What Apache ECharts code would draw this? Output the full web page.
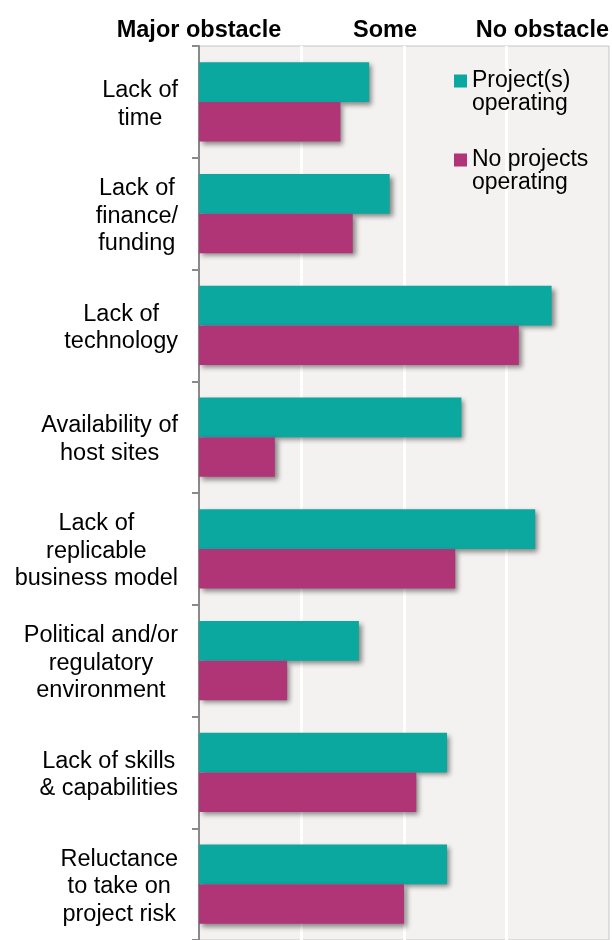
<!DOCTYPE html>
<html>
<head>
<meta charset="utf-8">
<script src="https://cdn.jsdelivr.net/npm/echarts@6/dist/echarts.min.js"></script>
<style>
  html, body { margin: 0; padding: 0; background: #ffffff; }
  #chart { width: 612px; height: 940px; }
</style>
</head>
<body>
<div id="chart"></div>
<script>
// Obstacles, listed top to bottom (line breaks as shown next to the axis)
const categories = [
  'Lack of\ntime',
  'Lack of\nfinance/\nfunding',
  'Lack of\ntechnology',
  'Availability of\nhost sites',
  'Lack of\nreplicable\nbusiness model',
  'Political and/or\nregulatory\nenvironment',
  'Lack of skills\n& capabilities',
  'Reluctance\nto take on\nproject risk'
];

// Mean rating: 1 = major obstacle, 2 = some, 3 = no obstacle
const projectsOperating = [1.83, 1.93, 2.72, 2.28, 2.64, 1.78, 2.21, 2.21];
const noProjectsOperating = [1.69, 1.75, 2.56, 1.37, 2.25, 1.43, 2.06, 2.00];

const seriesNames = ['Project(s) operating', 'No projects operating'];

// Rating scale shown along the top
const scaleValues = [1, 2, 3];
const scaleLabels = ['Major obstacle', 'Some', 'No obstacle'];

const FONT = "'Liberation Sans', Arial, Helvetica, sans-serif";
const TEAL = '#0AA89F';
const PLUM = '#B03577';

const barShadow = {
  shadowColor: 'rgba(0,0,0,0.45)',
  shadowBlur: 5,
  shadowOffsetX: 3,
  shadowOffsetY: 3
};

const chart = echarts.init(document.getElementById('chart'), null, { renderer: 'canvas' });

chart.setOption({
  animation: false,
  backgroundColor: '#ffffff',
  textStyle: { fontFamily: FONT },
  grid: {
    left: 199,
    top: 46,
    width: 412,
    height: 903,
    show: true,
    backgroundColor: '#F3F2F0',
    borderColor: '#C4C4C4',
    borderWidth: 1,
    containLabel: false
  },
  legend: {
    orient: 'vertical',
    left: 454,
    top: 47,
    padding: 0,
    itemWidth: 13,
    itemHeight: 13,
    itemGap: 11,
    icon: 'rect',
    selectedMode: false,
    data: seriesNames,
    itemStyle: { shadowBlur: 0, shadowOffsetX: 0, shadowOffsetY: 0, shadowColor: 'transparent' },
    formatter: function (name) {
      const cut = name.lastIndexOf(' ');
      // leading blank line keeps the swatch level with the first line of text
      return '\n' + name.slice(0, cut) + '\n' + name.slice(cut + 1);
    },
    textStyle: {
      fontFamily: FONT,
      fontSize: 23,
      lineHeight: 22.5,
      color: '#000000'
    }
  },
  xAxis: {
    type: 'value',
    position: 'top',
    min: 1,
    max: 3,
    interval: 0.5,
    axisLine: { show: false },
    axisTick: { show: false },
    splitLine: {
      show: true,
      showMinLine: false,
      showMaxLine: false,
      lineStyle: { color: '#FFFFFF', width: 3 }
    },
    axisLabel: {
      show: true,
      margin: 3,
      showMinLabel: true,
      showMaxLabel: true,
      alignMinLabel: 'center',
      alignMaxLabel: 'right',
      formatter: function (v) {
        const i = scaleValues.indexOf(v);
        if (i < 0) return '';
        const key = i === 1 ? 'mid' : 'end';
        return '{' + key + '|' + scaleLabels[i] + '}';
      },
      rich: {
        end: { fontFamily: FONT, fontSize: 23.5, fontWeight: 'bold', color: '#000000' },
        mid: { fontFamily: FONT, fontSize: 23.5, fontWeight: 'bold', color: '#000000', padding: [0, 38, 0, 0] }
      }
    }
  },
  yAxis: {
    type: 'category',
    inverse: true,
    data: categories,
    axisLine: { show: true, lineStyle: { color: '#8A8A8A', width: 2 } },
    axisTick: { show: true, length: 7, lineStyle: { color: '#8A8A8A', width: 2 } },
    splitLine: { show: false },
    axisLabel: {
      margin: 21,
      align: 'right',
      padding: [5, 0, 0, 0],
      formatter: function (v) {
        return v.split('\n').map(function (line) { return '{c|' + line + '}'; }).join('\n');
      },
      rich: {
        c: { fontFamily: FONT, fontSize: 23.5, lineHeight: 27.5, color: '#000000', align: 'center' }
      }
    }
  },
  series: [
    {
      name: seriesNames[0],
      type: 'bar',
      data: projectsOperating,
      barGap: '0%',
      barCategoryGap: '29%',
      clip: true,
      itemStyle: Object.assign({ color: TEAL }, barShadow)
    },
    {
      name: seriesNames[1],
      type: 'bar',
      data: noProjectsOperating,
      barGap: '0%',
      barCategoryGap: '29%',
      clip: true,
      itemStyle: Object.assign({ color: PLUM }, barShadow)
    }
  ]
});
</script>
</body>
</html>
